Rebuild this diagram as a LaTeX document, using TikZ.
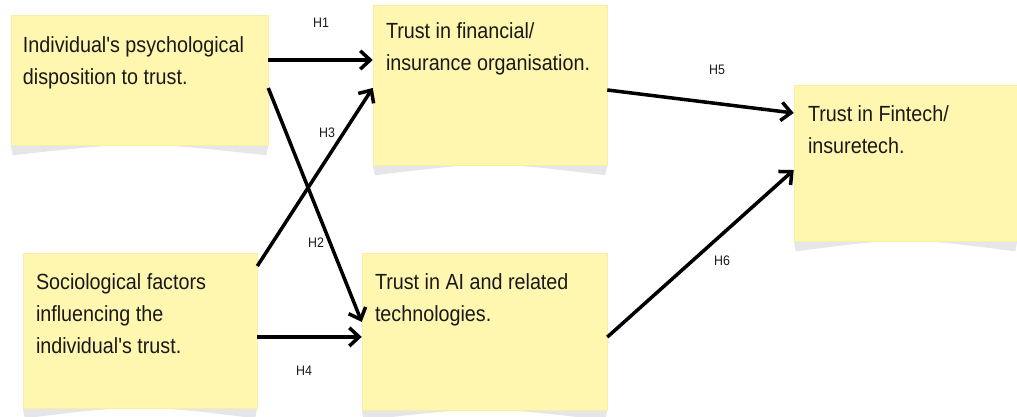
\documentclass[tikz,border=0pt]{standalone}
\usepackage{fontspec}
\setmainfont{Liberation Sans}[FakeStretch=0.9,Ligatures=TeXOff]
\usepackage{tikz}
\usetikzlibrary{arrows.meta,backgrounds}
\definecolor{note-yellow}{RGB}{255,246,176}
\definecolor{note-edge}{RGB}{247,238,168}
\definecolor{note-shadow}{RGB}{230,230,233}
\definecolor{ink}{RGB}{25,25,25}

\begin{document}
\begin{tikzpicture}
[
  note/.style={rectangle,fill=note-yellow,draw=note-edge,thin,inner sep=0pt},
  notetext/.style={anchor=north west,inner sep=0pt,align=left,text=ink,
    font=\fontsize{15.6}{22.5}\selectfont},
  hyp/.style={line width=2.5pt,-{Straight Barb[length=7pt,width=13pt]}},
  hlabel/.style={inner sep=0pt,text=ink,font=\fontsize{9.8}{11}\selectfont},
]
\useasboundingbox (0,0) rectangle (25.425,10.425);

% sticky notes
\path (3.4875,8.425) node[note,minimum width=6.425cm,minimum height=3.25cm] (indiv) {};
\path (12.25,8.3) node[note,minimum width=5.85cm,minimum height=4.0cm] (finance) {};
\path (22.6375,6.35) node[note,minimum width=5.575cm,minimum height=3.9cm] (fintech) {};
\path (3.5,2.1625) node[note,minimum width=5.85cm,minimum height=3.875cm] (socio) {};
\path (12.1125,2.1375) node[note,minimum width=6.125cm,minimum height=3.925cm] (ai) {};

% curled shadow under each note
\begin{scope}[on background layer]
\foreach \b in {indiv,finance,fintech,socio,ai}{
  \fill[note-shadow] (\b.south west) -- ([xshift=0.05cm,yshift=-0.25cm]\b.south west)
    .. controls ([yshift=0.1cm]\b.south) .. ([xshift=-0.05cm,yshift=-0.25cm]\b.south east)
    -- (\b.south east) -- cycle;
}
\end{scope}

\node[notetext] (indiv-t) at ([shift={(0.3,-0.55)}]indiv.north west)
  {Individual's psychological\\disposition to trust.};
\node[notetext] (finance-t) at ([shift={(0.325,-0.45)}]finance.north west)
  {Trust in financial/\\insurance organisation.};
\node[notetext] (fintech-t) at ([shift={(0.35,-0.525)}]fintech.north west)
  {Trust in Fintech/\\insuretech.};
\node[notetext] (socio-t) at ([shift={(0.325,-0.525)}]socio.north west)
  {Sociological factors\\influencing the\\individual's trust.};
\node[notetext] (ai-t) at ([shift={(0.325,-0.525)}]ai.north west)
  {Trust in AI and related\\technologies.};

% hypotheses
\draw[hyp] ([yshift=0.5cm]indiv.east) -- ([yshift=0.5cm]indiv.east -| finance.west);
\draw[hyp] ([yshift=-0.2cm]indiv.east) -- ([yshift=0.24cm]ai.west);
\draw[hyp] ([yshift=1.61cm]socio.east) -- ([yshift=-0.075cm]finance.west);
\draw[hyp] ([yshift=-0.16cm]socio.east) -- ([yshift=-0.16cm]socio.east -| ai.west);
\draw[hyp] ([yshift=-0.125cm]finance.east) -- ([yshift=1.25cm]fintech.west);
\draw[hyp] ([yshift=-0.14cm]ai.east) -- ([yshift=-0.175cm]fintech.west);

\node[hlabel] (h1) at (8.025,9.85) {H1};
\node[hlabel] (h2) at (7.9,4.35) {H2};
\node[hlabel] (h3) at (8.175,7.1) {H3};
\node[hlabel] (h4) at (7.6,1.15) {H4};
\node[hlabel] (h5) at (17.925,8.675) {H5};
\node[hlabel] (h6) at (18.05,3.9) {H6};
\end{tikzpicture}
\end{document}
